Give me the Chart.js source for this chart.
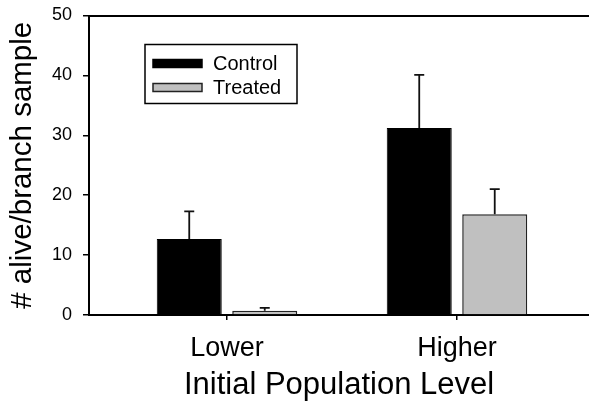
<!DOCTYPE html>
<html>
<head>
<meta charset="utf-8">
<script src="https://cdn.jsdelivr.net/npm/chart.js@4.4.1/dist/chart.umd.min.js"></script>
<style>
  html, body { margin: 0; padding: 0; background: #fff; overflow: hidden; }
  #wrap { width: 589px; height: 404px; }
</style>
</head>
<body>
<div id="wrap"><canvas id="popChart" width="589" height="404"></canvas></div>
<script>
// values
const categories = ["Lower", "Higher"];
const controlMeans = [12.7, 31.2];
const controlErrors = [4.6, 8.9];
const treatedMeans = [0.7, 16.8];
const treatedErrors = [0.5, 4.2];
const yTicks = [0, 10, 20, 30, 40, 50];

const FONT = "'Liberation Sans', Arial, sans-serif";

// category i sits at x = i + 1 on a linear axis
function toPoints(values) {
    return values.map((v, i) => ({ x: i + 1, y: v }));
}

// upper error bars (the lower half is hidden by the bar)
const errorBars = {
    id: "errorBars",
    afterDatasetsDraw(chart) {
        const ctx = chart.ctx;
        const yScale = chart.scales.y;
        ctx.save();
        ctx.strokeStyle = "#111";
        ctx.lineWidth = 1.8;
        chart.data.datasets.forEach((ds, di) => {
            const meta = chart.getDatasetMeta(di);
            meta.data.forEach((bar, i) => {
                const top = yScale.getPixelForValue(ds.data[i].y + ds.errors[i]);
                ctx.beginPath();
                ctx.moveTo(bar.x, bar.y);
                ctx.lineTo(bar.x, top);
                ctx.moveTo(bar.x - 5, top);
                ctx.lineTo(bar.x + 5, top);
                ctx.stroke();
            });
        });
        ctx.restore();
    }
};

// boxed legend inside the plot, upper left
const boxLegend = {
    id: "boxLegend",
    afterDraw(chart) {
        const ctx = chart.ctx;
        const area = chart.chartArea;
        const left = area.left + 56;
        const top = area.top + 29;
        const w = 152, h = 59;
        ctx.save();
        ctx.fillStyle = "#fff";
        ctx.fillRect(left, top, w, h);
        ctx.strokeStyle = "#000";
        ctx.lineWidth = 1.5;
        ctx.strokeRect(left, top, w, h);
        ctx.font = "20px " + FONT;
        ctx.textBaseline = "middle";
        chart.data.datasets.forEach((ds, i) => {
            const cy = top + 19 + i * 24;
            ctx.fillStyle = ds.backgroundColor;
            ctx.fillRect(left + 8, cy - 4, 49, 8);
            ctx.strokeStyle = ds.borderColor;
            ctx.lineWidth = 1.5;
            ctx.strokeRect(left + 8, cy - 4, 49, 8);
            ctx.fillStyle = "#000";
            ctx.fillText(ds.label, left + 68, cy + 1);
        });
        ctx.restore();
    }
};

new Chart(document.getElementById("popChart").getContext("2d"), {
    type: "bar",
    data: {
        datasets: [
            {
                label: "Control",
                data: toPoints(controlMeans),
                errors: controlErrors,
                backgroundColor: "#000000",
                borderColor: "#000000",
                borderWidth: 1
            },
            {
                label: "Treated",
                data: toPoints(treatedMeans),
                errors: treatedErrors,
                backgroundColor: "#c0c0c0",
                borderColor: "#222222",
                borderWidth: 1.5
            }
        ]
    },
    options: {
        responsive: false,
        animation: false,
        devicePixelRatio: 1,
        categoryPercentage: 0.6565,
        barPercentage: 0.861,
        layout: { padding: 0 },
        plugins: {
            legend: { display: false },
            tooltip: { enabled: false }
        },
        scales: {
            x: {
                type: "linear",
                position: "bottom",
                min: 0.4,
                max: 2.574,
                offset: false,
                afterBuildTicks: (axis) => {
                    axis.ticks = categories.map((c, i) => ({ value: i + 1 }));
                },
                afterFit: (axis) => {
                    axis.height = 89;
                    axis.paddingLeft = 0;
                    axis.paddingRight = 0;
                },
                border: { display: true, color: "#000", width: 2 },
                grid: { offset: false, drawOnChartArea: false, drawTicks: true, tickLength: 5, color: "#000", lineWidth: 1.5 },
                ticks: {
                    padding: 12,
                    color: "#000",
                    font: { family: FONT, size: 27 },
                    callback: (v) => categories[v - 1]
                },
                title: {
                    display: true,
                    text: "Initial Population Level",
                    color: "#000",
                    font: { family: FONT, size: 31 },
                    padding: { top: 0, bottom: 0 }
                }
            },
            xTop: {
                type: "linear",
                position: "top",
                afterFit: (axis) => {
                    axis.height = 15.5;
                    axis.paddingLeft = 0;
                    axis.paddingRight = 0;
                },
                border: { display: true, color: "#000", width: 2 },
                grid: { drawOnChartArea: false, drawTicks: false },
                ticks: { display: false }
            },
            y: {
                min: 0,
                max: 50,
                afterBuildTicks: (axis) => {
                    axis.ticks = yTicks.map(v => ({ value: v }));
                },
                afterFit: (axis) => {
                    axis.width = 89;
                    axis.paddingTop = 0;
                    axis.paddingBottom = 0;
                },
                border: { display: true, color: "#000", width: 2 },
                grid: { drawOnChartArea: false, drawTicks: true, tickLength: 6, color: "#000", lineWidth: 1.5 },
                ticks: {
                    padding: 11,
                    color: "#000",
                    font: { family: FONT, size: 18 }
                },
                title: {
                    display: true,
                    text: "# alive/branch sample",
                    color: "#000",
                    font: { family: FONT, size: 29.5 },
                    padding: { top: 5, bottom: 0 }
                }
            }
        }
    },
    plugins: [errorBars, boxLegend]
});
</script>
</body>
</html>
